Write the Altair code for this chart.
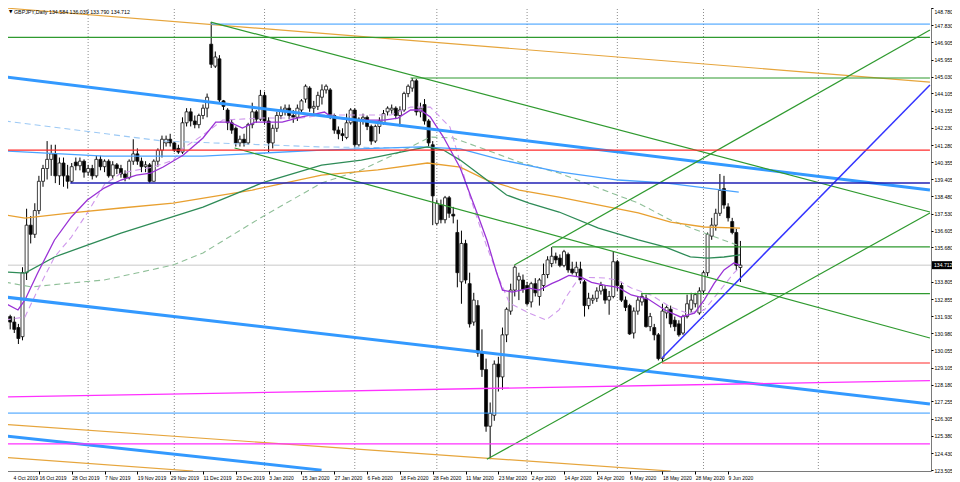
import altair as alt
import pandas as pd

# ---------------- candles (GBPJPY daily) ----------------
opens = [131.4,131.9,131.6,131.3,130.8,134.3,136.9,136.4,137.7,139.3,
         140.0,140.5,140.8,139.6,140.3,139.6,139.3,140.35,140.15,140.4,
         139.8,140.0,139.6,140.5,140.1,140.4,139.6,140.2,140.0,139.7,
         139.5,140.4,140.8,140.4,140.1,140.2,139.3,140.4,141.0,141.4,
         141.6,141.4,141.1,140.9,142.5,143.1,142.6,142.4,142.9,143.3,
         146.8,145.6,146.0,143.7,143.2,142.5,142.2,141.4,141.6,141.4,
         142.4,143.1,142.7,144.0,142.6,141.4,142.2,142.9,143.2,143.3,
         142.9,142.8,143.2,143.8,144.4,143.3,143.4,143.9,144.3,144.3,
         142.9,142.1,141.9,141.7,142.5,143.2,141.3,142.7,142.8,142.3,
         141.5,142.3,142.5,143.1,143.2,143.3,142.9,143.2,144.1,144.4,
         144.8,143.1,143.5,142.6,141.3,137.0,138.0,137.2,138.4,137.5,
         136.5,133.8,135.9,133.7,131.6,132.5,129.9,129.0,125.9,126.5,
         129.3,128.6,130.9,132.2,133.35,133.9,133.9,133.6,132.7,133.7,
         133.0,133.6,134.2,134.8,135.2,135.1,134.7,135.3,134.5,134.3,
         134.5,133.8,132.5,132.8,132.9,133.3,133.4,132.8,133.0,134.9,
         133.6,132.8,132.5,131.0,132.2,132.7,132.9,131.35,131.3,130.9,
         129.6,132.1,132.3,131.7,131.5,131.0,131.9,132.3,132.6,132.1,
         133.3,134.3,136.3,136.9,137.55,138.9,137.9,137.1,136.5,134.584]
highs = [132.1,132.0,131.9,131.5,134.6,137.8,137.4,138.1,139.6,140.2,
         141.5,141.3,141.3,140.6,140.6,140.2,140.3,140.6,140.6,140.5,
         140.2,140.2,140.7,140.7,140.5,140.5,140.4,140.3,140.2,139.9,
         140.5,141.6,141.1,140.6,140.4,140.3,140.5,141.1,141.8,141.8,
         141.9,141.5,141.3,142.8,143.3,143.3,142.9,143.0,143.5,144.1,
         148.0,146.4,146.2,143.75,143.3,142.7,142.3,141.8,141.9,142.5,
         143.6,143.2,144.3,144.2,142.8,142.4,143.1,143.4,143.5,143.5,
         143.2,143.5,143.8,144.6,144.5,143.7,144.2,144.6,144.6,144.4,
         143.0,142.3,142.2,143.0,143.3,143.3,142.8,143.0,142.9,142.4,
         142.4,142.8,143.2,143.4,143.5,143.4,143.4,144.2,144.6,144.95,
         144.9,143.6,143.8,142.7,141.5,138.3,138.3,138.5,138.5,137.9,
         137.2,136.6,136.1,134.3,133.2,132.8,131.2,129.6,127.2,129.5,
         129.7,131.3,132.4,133.7,134.7,134.3,134.2,133.8,133.8,134.0,
         134.0,134.8,135.2,135.7,135.4,135.3,135.55,135.4,134.9,134.9,
         134.9,133.9,133.2,133.1,133.5,133.8,133.6,133.3,135.45,135.0,
         133.8,133.0,132.6,132.4,133.0,133.2,133.1,132.1,131.5,131.0,
         132.6,132.5,132.5,131.9,131.7,132.0,133.1,133.2,133.2,133.5,
         134.4,136.5,137.3,137.8,139.7,139.6,138.1,137.3,136.7,136.039]
lows = [131.1,131.2,131.0,130.4,130.6,133.9,135.9,136.2,137.5,139.0,
        139.4,139.6,139.2,139.1,139.0,138.9,139.2,139.9,139.9,139.5,
        139.6,139.4,139.5,139.9,139.8,139.5,139.4,139.7,139.5,139.3,
        139.4,140.2,140.2,139.8,139.8,139.2,139.3,140.1,140.6,141.2,
        141.2,140.9,140.8,140.8,142.3,142.3,142.2,142.2,142.7,142.8,
        145.5,145.5,143.6,143.2,142.1,141.9,141.2,141.2,141.2,141.3,
        142.2,142.5,142.6,142.4,140.9,141.1,142.0,142.7,142.9,142.7,
        142.5,142.6,143.0,143.6,143.1,143.0,143.2,143.5,144.1,142.7,
        141.9,141.6,141.5,141.6,142.4,141.1,141.2,142.4,142.1,141.3,
        141.4,141.9,142.4,142.9,143.0,142.7,142.3,143.1,143.9,144.2,
        142.9,142.8,142.4,141.2,136.9,136.9,137.0,137.0,137.3,137.0,
        133.5,132.6,133.7,131.3,131.4,129.7,128.6,125.6,124.1,126.2,
        127.8,127.9,130.5,132.0,133.0,132.8,133.2,132.5,132.4,133.0,
        132.5,133.3,134.0,134.6,134.8,134.6,134.6,134.3,134.2,134.1,
        133.7,131.9,132.3,132.6,132.7,133.1,132.6,132.0,132.9,133.3,
        132.7,132.2,130.9,130.7,132.0,132.5,131.3,131.1,130.6,129.5,
        129.4,131.8,131.3,131.1,130.8,130.9,131.8,132.1,132.4,132.0,
        133.1,134.1,136.1,136.6,137.4,137.8,137.1,136.4,134.45,133.79]
closes = [131.9,131.6,131.2,130.7,134.3,136.9,136.4,137.7,139.3,140.0,
          140.5,140.8,139.6,140.3,139.6,139.3,140.1,140.15,140.4,139.8,
          140.0,139.6,140.5,140.1,140.4,139.6,140.2,140.0,139.7,139.5,
          140.4,140.8,140.4,140.1,140.2,139.3,140.4,141.0,141.6,141.6,
          141.4,141.0,140.9,142.5,143.1,142.6,142.4,142.9,143.3,143.9,
          145.7,146.1,143.75,143.4,142.5,142.1,141.4,141.6,141.4,142.4,
          143.1,142.7,144.0,142.6,141.4,142.2,142.9,143.2,143.3,142.9,
          142.8,143.3,143.7,144.5,143.3,143.4,144.0,144.3,144.5,142.9,
          142.1,141.9,141.8,142.5,143.2,141.3,142.7,142.8,142.3,141.5,
          142.3,142.6,143.0,143.3,143.3,142.9,143.2,144.1,144.5,144.8,
          143.1,143.3,142.6,141.4,138.5,138.1,137.2,138.4,137.55,137.4,
          134.3,135.9,133.9,131.5,132.8,129.9,129.0,125.9,126.6,129.3,
          128.6,130.9,132.3,133.35,134.6,134.1,133.4,132.6,133.7,133.2,
          133.9,134.2,135.0,135.2,135.0,134.7,135.45,134.45,134.3,134.6,
          133.9,132.5,132.9,132.9,133.3,133.6,132.8,133.0,134.9,133.6,
          132.8,132.4,130.95,132.2,132.8,133.0,131.35,131.9,130.9,129.6,
          132.2,132.4,131.5,131.35,130.9,131.9,132.6,132.8,133.1,133.3,
          134.3,136.4,136.9,137.55,138.8,138.0,137.3,136.5,134.7,134.712]

# ---------------- axis labels ----------------
date_labels = ["4 Oct 2019", "16 Oct 2019", "28 Oct 2019", "7 Nov 2019", "19 Nov 2019",
               "29 Nov 2019", "11 Dec 2019", "23 Dec 2019", "3 Jan 2020", "15 Jan 2020",
               "27 Jan 2020", "6 Feb 2020", "18 Feb 2020", "28 Feb 2020", "11 Mar 2020",
               "23 Mar 2020", "2 Apr 2020", "14 Apr 2020", "24 Apr 2020", "6 May 2020",
               "18 May 2020", "28 May 2020", "9 Jun 2020"]
price_ticks = [148.780, 147.830, 146.905, 145.955, 145.030, 144.105, 143.155, 142.230,
               141.280, 140.355, 139.405, 138.480, 137.530, 136.605, 135.680, 133.805,
               132.855, 131.930, 130.980, 130.055, 129.105, 128.180, 127.255, 126.305,
               125.380, 124.430, 123.505]
last_price = 134.712
title_text = "GBPJPY,Daily  134.584 136.039 133.790 134.712"

# month separators (bar index)
separators = [20, 41, 63, 85, 105, 127, 149, 170, 198]

# ---------------- moving averages (bar index, price) ----------------
purple_i = [-0.3, 2.9, 4.6, 7.7, 11.8, 15.9, 19.8, 23.9, 28.0, 31.8, 35.2, 38.3, 43.2, 48.0, 51.1,
            54.5, 57.6, 60.7, 67.3, 72.1, 77.6, 79.3, 84.1, 92.1, 95.5, 98.6, 101.0, 103.4, 106.6,
            110.7, 114.8, 117.2, 119.6, 121.0, 123.4, 127.5, 129.9, 133.1, 134.8, 137.2, 140.3,
            142.7, 146.1, 149.2, 152.4, 156.5, 160.6, 164.4, 167.8, 170.2, 172.6, 175.0, 177.4, 178.9]
purple_p = [132.64, 132.26, 132.81, 134.28, 136.09, 137.35, 138.28, 138.93, 139.37, 139.64, 139.75,
            140.08, 140.74, 141.67, 142.54, 142.54, 142.21, 142.54, 142.54, 142.82, 143.09, 142.82,
            142.65, 142.65, 142.76, 143.2, 143.2, 142.82, 141.72, 140.03, 137.57, 136.09, 134.28,
            133.35, 133.24, 133.46, 133.35, 133.72, 133.88, 134.15, 134.04, 133.77, 133.61, 133.5,
            133.08, 132.86, 132.26, 131.88, 132.09, 132.81, 133.72, 134.45, 134.83, 134.72]
lpurple_i = [-0.3, 4.6, 7.7, 11.8, 15.9, 19.8, 23.9, 28.0, 35.9, 40.7, 43.2, 48.0, 52.8, 62.4, 72.1,
             76.9, 84.1, 93.8, 98.6, 103.4, 108.2, 113.1, 117.2, 120.3, 122.7, 127.5, 131.6, 134.8,
             136.5, 138.9, 142.0, 146.1, 149.2, 152.4, 157.2, 162.0, 166.1, 170.2, 174.1, 177.4, 178.9]
lpurple_p = [131.71, 131.88, 133.35, 135.16, 136.25, 137.57, 139.10, 139.75, 140.08, 140.46, 141.12,
             141.83, 142.65, 142.76, 142.76, 142.93, 142.93, 142.93, 143.36, 143.36, 142.27, 138.44,
             135.71, 133.9, 132.64, 132.09, 131.71, 132.26, 132.97, 133.77, 134.04, 134.01, 133.88,
             133.46, 133.08, 132.42, 132.09, 132.26, 133.35, 134.28, 134.61]
dgreen_i = [-0.3, 4.6, 11.8, 19.8, 28.0, 35.9, 48.0, 62.4, 76.9, 86.6, 98.6, 102.7, 106.6, 110.7,
            117.2, 122.0, 127.5, 134.8, 144.4, 154.1, 160.6, 166.8, 171.0, 175.0, 178.9]
dgreen_p = [134.34, 134.28, 135.16, 135.81, 136.47, 137.02, 137.89, 139.21, 140.19, 140.46, 141.01,
            141.18, 141.01, 140.46, 139.37, 138.55, 138.11, 137.62, 136.74, 136.09, 135.71, 135.16,
            135.10, 135.16, 135.27]
lgreen_i = [-0.3, 6.2, 15.9, 23.9, 31.8, 40.7, 48.0, 62.4, 76.9, 86.6, 98.6, 103.4, 109.0, 117.2,
            125.1, 134.8, 144.4, 154.1, 162.0, 170.2, 178.2]
lgreen_p = [133.79, 133.52, 133.74, 133.9, 134.28, 134.72, 135.38, 137.35, 139.21, 139.92, 141.18,
            141.72, 141.67, 141.01, 140.35, 139.75, 138.93, 138.11, 137.18, 136.47, 135.81]
orange_i = [-0.3, 4.6, 15.9, 28.0, 40.7, 60.0, 76.9, 90.6, 102.7, 110.7, 117.2, 125.1, 134.8,
            154.1, 162.0, 170.2, 178.9]
orange_p = [137.46, 137.29, 137.57, 137.84, 138.11, 138.82, 139.64, 139.92, 140.30, 140.08, 139.37,
            138.82, 138.44, 137.57, 137.07, 136.80, 136.74]
lblue_i = [-0.3, 23.9, 48.0, 76.9, 101.0, 110.7, 121.0, 134.8, 149.2, 160.6, 178.6]
lblue_p = [140.96, 140.68, 140.68, 141.01, 141.18, 141.07, 140.46, 139.81, 139.37, 139.21, 138.71]
lbluedash_i = [-0.3, 38.3, 76.9, 101.0]
lbluedash_p = [142.6, 141.5, 141.18, 141.12]

# ---------------- drawn objects (start index, start price, end index, end price) ----------------
obj_x1 = [-0.3, -0.3, -0.3, -0.3, -0.3, -0.3, 49.9, -0.3, -0.3, 98.6, 133.1, 154.8,
          49.9, 55.7, 123.9, 117.2, 159.9, -0.3, 159.9, -0.3, -0.3, 15.65]
obj_p1 = [148.78, 126.0, 124.2, 145.01, 132.97, 125.37, 147.90, 126.62, 147.17, 144.95, 135.71, 133.16,
          148.01, 141.12, 134.72, 124.09, 129.63, 141.01, 129.36, 127.5, 124.94, 139.21]
obj_x2 = [225.2, 162.0, 45.6, 225.2, 225.2, 76.9, 225.2, 225.2, 225.2, 225.2, 225.2, 225.2,
          225.2, 225.2, 225.2, 225.2, 225.2, 225.2, 225.2, 225.2, 225.2, 225.2]
obj_p2 = [144.73, 123.45, 123.45, 138.82, 127.12, 123.50, 147.90, 126.62, 147.17, 144.95, 135.71, 133.16,
          137.62, 130.73, 147.58, 137.57, 144.57, 141.01, 129.36, 128.4, 124.94, 139.21]
obj_kind = ["orange", "orange", "orange", "bluethick", "bluethick", "bluethick", "skyline", "skyline",
            "green", "green", "green", "green", "green", "green", "green", "green",
            "blue", "red", "red", "magenta", "magenta", "navy"]

style_color = {"orange": "#e6a53c", "bluethick": "#3399ff", "skyline": "#3399ff", "green": "#2f9a2f",
               "blue": "#3434ff", "red": "#ff2b2b", "magenta": "#ff30ff", "navy": "#2020b4"}
style_width = {"orange": 1.2, "bluethick": 3.0, "skyline": 1.0, "green": 1.2,
               "blue": 1.5, "red": 1.2, "magenta": 1.3, "navy": 1.4}

# ---------------- build tables ----------------
n = len(opens)
cd = pd.DataFrame({"i": list(range(n)), "o": opens, "h": highs, "l": lows, "c": closes})
cd["fill"] = ["#ffffff" if c >= o else "#000000" for o, c in zip(opens, closes)]

objs = pd.DataFrame({"x1": obj_x1, "p1": obj_p1, "x2": obj_x2, "p2": obj_p2, "kind": obj_kind})
objs["color"] = objs["kind"].map(style_color)
objs["w"] = objs["kind"].map(style_width)


def ma_frame(ii, pp, name):
    return pd.DataFrame({"i": ii, "p": pp, "s": name})


solid_ma = pd.concat([
    ma_frame(lblue_i, lblue_p, "#4aa3ff"),
    ma_frame(orange_i, orange_p, "#e8a030"),
    ma_frame(dgreen_i, dgreen_p, "#2e8b57"),
    ma_frame(purple_i, purple_p, "#9a32d6"),
])
dash_ma = pd.concat([
    ma_frame(lbluedash_i, lbluedash_p, "#9cc9f5"),
    ma_frame(lgreen_i, lgreen_p, "#8fbf98"),
    ma_frame(lpurple_i, lpurple_p, "#cf98ec"),
])

PLOT_W = 931
PLOT_H = 471
XS = alt.Scale(domain=[-0.265, 224.24], nice=False, zero=False)
YS = alt.Scale(domain=[123.452, 149.218], nice=False, zero=False)

label_expr = "[" + ",".join("'" + s + "'" for s in date_labels) + "][round(datum.value / 8)]"
x_axis = alt.Axis(values=list(range(0, 8 * len(date_labels), 8)), labelExpr=label_expr,
                  orient="bottom", grid=False, domain=False, ticks=True, tickSize=3,
                  tickColor="#000000", labelFontSize=5.0, labelAlign="left", labelPadding=1,
                  labelOffset={"condition": {"test": "datum.value < 1", "value": 7}, "value": 0},
                  labelFont="Liberation Sans", labelColor="#000000", title=None, labelOverlap=False,
                  labelBound=False, labelFlush=False)
y_axis = alt.Axis(values=price_ticks, orient="right", format=".3f", grid=False, domain=False,
                  tickSize=2, tickColor="#000000", labelFontSize=5.1, labelPadding=1,
                  labelOffset={"condition": {"test": "datum.value > 148.5", "value": 3}, "value": 0},
                  labelFont="Liberation Sans", labelColor="#000000", title=None, labelOverlap=False,
                  labelBound=False, labelFlush=False)


def X(field):
    return alt.X(field, scale=XS, axis=x_axis)


def Y(field):
    return alt.Y(field, scale=YS, axis=y_axis)


base_c = alt.Chart(cd)

sep = alt.Chart(pd.DataFrame({"i": separators})).mark_rule(
    color="#8c8c8c", strokeWidth=1, strokeDash=[1, 2], clip=True
).encode(x=X("i:Q"))

cur = alt.Chart(pd.DataFrame({"p": [last_price]})).mark_rule(
    color="#c8c8c8", strokeWidth=1
).encode(y=Y("p:Q"))

wicks = base_c.mark_rule(color="#000000", strokeWidth=1).encode(
    x=X("i:Q"), y=Y("l:Q"), y2="h:Q",
)
bodies = base_c.mark_bar(size=3, stroke="#111111", strokeWidth=0.8).encode(
    x=X("i:Q"), y=Y("o:Q"), y2="c:Q",
    fill=alt.Fill("fill:N", scale=None),
)

solid_lines = alt.Chart(solid_ma).mark_line(strokeWidth=1.3, clip=True).encode(
    x=X("i:Q"), y=Y("p:Q"),
    color=alt.Color("s:N", scale=None),
    detail="s:N",
)
dash_lines = alt.Chart(dash_ma).mark_line(strokeWidth=1.1, strokeDash=[6, 4], clip=True).encode(
    x=X("i:Q"), y=Y("p:Q"),
    color=alt.Color("s:N", scale=None),
    detail="s:N",
)

obj_layer = alt.Chart(objs).mark_rule(clip=True).encode(
    x=X("x1:Q"), y=Y("p1:Q"), x2="x2:Q", y2="p2:Q",
    color=alt.Color("color:N", scale=None),
    strokeWidth=alt.StrokeWidth("w:Q", scale=None),
)

price_box = alt.Chart(pd.DataFrame({"p": [last_price]})).mark_rule(
    color="#000000", strokeWidth=8, clip=False
).encode(x=alt.value(PLOT_W + 1), x2=alt.value(PLOT_W + 21), y=Y("p:Q"))
price_txt = alt.Chart(pd.DataFrame({"p": [last_price], "t": [f"{last_price:.3f}"]})).mark_text(
    color="#ffffff", fontSize=5.1, font="Liberation Sans", align="left", baseline="middle", clip=False
).encode(x=alt.value(PLOT_W + 3), y=Y("p:Q"), text="t:N")

head = alt.Chart(pd.DataFrame({"t": [title_text]})).mark_text(
    color="#000000", fontSize=5.3, font="Liberation Sans", align="left", baseline="middle"
).encode(x=alt.value(14), y=alt.value(12), text="t:N")
tri = alt.Chart(pd.DataFrame({"t": ["\u25bc"]})).mark_text(
    color="#000000", fontSize=4.5, font="DejaVu Sans", align="left", baseline="middle"
).encode(x=alt.value(9), y=alt.value(12), text="t:N")

chart = alt.layer(
    sep, cur, wicks, bodies, dash_lines, solid_lines, obj_layer, price_box, price_txt, head, tri
).properties(
    width=PLOT_W, height=PLOT_H,
    padding={"left": -8, "top": -8, "right": 21, "bottom": 11},
    autosize=alt.AutoSizeParams(type="none"),
    background="#ffffff",
).configure_view(stroke="#7a7a7a", strokeWidth=1)

chart.save("out.html", embed_options={"renderer": "svg", "actions": False})
